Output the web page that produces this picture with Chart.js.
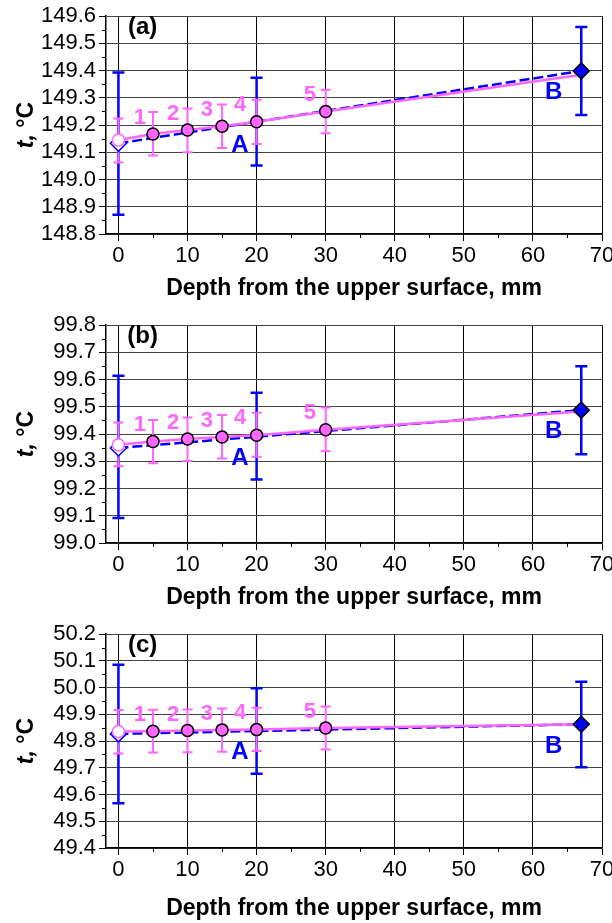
<!DOCTYPE html>
<html><head><meta charset="utf-8">
<script src="https://cdn.jsdelivr.net/npm/chart.js@4"></script>
<style>
body{margin:0;background:#fff;width:612px;height:923px;overflow:hidden;}
.p{position:relative;width:612px;}
</style></head><body>
<div class="p" style="height:309px"><canvas id="ca"></canvas></div>
<div class="p" style="height:309px"><canvas id="cb"></canvas></div>
<div class="p" style="height:305px"><canvas id="cc"></canvas></div>
<script>
// ---------- data ----------
const depthsPink = [0, 5, 10, 15, 20, 30, 67];
const depthsPinkErr = [0, 5, 10, 15, 20, 30];
const depthsBlue = [0, 67];
const depthsBlueErr = [0, 20, 67];
const xTickValues = [0, 10, 20, 30, 40, 50, 60, 70];

// panel (a)
const pinkA = [149.145, 149.167, 149.182, 149.196, 149.212, 149.250, 149.385];
const pinkLowA = [149.063, 149.088, 149.100, 149.116, 149.131, 149.170];
const pinkHighA = [149.224, 149.248, 149.261, 149.276, 149.293, 149.330];
const blueA = [149.133, 149.399];
const blueLowA = [148.871, 149.052, 149.237];
const blueHighA = [149.393, 149.374, 149.560];
const yTicksA = [148.8, 148.9, 149.0, 149.1, 149.2, 149.3, 149.4, 149.5, 149.6];

// panel (b)
const pinkB = [99.361, 99.373, 99.382, 99.389, 99.396, 99.416, 99.483];
const pinkLowB = [99.282, 99.293, 99.301, 99.310, 99.317, 99.337];
const pinkHighB = [99.443, 99.452, 99.461, 99.470, 99.478, 99.498];
const blueB = [99.349, 99.488];
const blueLowB = [99.092, 99.233, 99.326];
const blueHighB = [99.614, 99.552, 99.649];
const yTicksB = [99.0, 99.1, 99.2, 99.3, 99.4, 99.5, 99.6, 99.7, 99.8];

// panel (c)
const pinkC = [49.836, 49.837, 49.840, 49.842, 49.843, 49.849, 49.863];
const pinkLowC = [49.754, 49.757, 49.758, 49.760, 49.763, 49.769];
const pinkHighC = [49.916, 49.917, 49.918, 49.922, 49.925, 49.929];
const blueC = [49.827, 49.863];
const blueLowC = [49.567, 49.678, 49.702];
const blueHighC = [50.086, 49.998, 50.022];
const yTicksC = [49.4, 49.5, 49.6, 49.7, 49.8, 49.9, 50.0, 50.1, 50.2];

// text labels
const pointLabels = ['1', '2', '3', '4', '5'];
const pointLabelDepths = [3.1, 7.9, 12.8, 17.6, 27.7];
const panelLetters = ['(a)', '(b)', '(c)'];
const xTitle = 'Depth from the upper surface, mm';

// ---------- helpers ----------
const PINK = '#ff66ff', BLUE = '#0000ff';
const FONT = "'Liberation Sans', Arial, sans-serif";

const errorBars = {
  id: 'errorBars',
  beforeDatasetsDraw(chart) {
    const o = chart.options.plugins.errorBars;
    const {ctx, scales: {x, y}} = chart;
    ctx.save();
    const draw = (xs, lo, hi, color, w, cap) => {
      ctx.strokeStyle = color; ctx.lineWidth = w;
      xs.forEach((d, i) => {
        const px = x.getPixelForValue(d);
        const p1 = y.getPixelForValue(lo[i]), p2 = y.getPixelForValue(hi[i]);
        ctx.beginPath();
        ctx.moveTo(px, p1); ctx.lineTo(px, p2);
        ctx.moveTo(px - cap, p1); ctx.lineTo(px + cap, p1);
        ctx.moveTo(px - cap, p2); ctx.lineTo(px + cap, p2);
        ctx.stroke();
      });
    };
    draw(depthsBlueErr, o.blueLow, o.blueHigh, BLUE, 2.5, 6);
    draw(depthsPinkErr, o.pinkLow, o.pinkHigh, PINK, 2, 5);
    ctx.restore();
  }
};

const extras = {
  id: 'extras',
  afterDraw(chart) {
    const o = chart.options.plugins.extras;
    const {ctx, scales: {x, y}, chartArea: a} = chart;
    ctx.save();
    // minor ticks
    ctx.strokeStyle = '#000'; ctx.lineWidth = 1;
    ctx.beginPath();
    for (let v = y.min + 0.05; v < y.max; v += 0.1) {
      const py = Math.round(y.getPixelForValue(v)) + 0.5;
      ctx.moveTo(a.left - 4, py); ctx.lineTo(a.left, py);
    }
    for (let v = 5; v < 70; v += 10) {
      const px = Math.round(x.getPixelForValue(v)) + 0.5;
      ctx.moveTo(px, a.bottom); ctx.lineTo(px, a.bottom + 4);
    }
    ctx.stroke();
    // panel letter
    ctx.fillStyle = '#000';
    ctx.font = 'bold 24px ' + FONT;
    ctx.textAlign = 'center'; ctx.textBaseline = 'middle';
    ctx.fillText(o.letter, x.getPixelForValue(3.5), y.getPixelForValue(y.max - 0.04));
    // point labels
    ctx.fillStyle = PINK;
    ctx.font = 'bold 22px ' + FONT;
    pointLabels.forEach((t, i) => {
      ctx.fillText(t, x.getPixelForValue(pointLabelDepths[i]), y.getPixelForValue(o.pinkHigh[i + 1] - 0.02));
    });
    // A and B
    ctx.fillStyle = BLUE;
    ctx.font = 'bold 24px ' + FONT;
    ctx.fillText('A', x.getPixelForValue(17.6), y.getPixelForValue(o.labelA));
    ctx.fillText('B', x.getPixelForValue(63), y.getPixelForValue(o.labelB));
    // y title: "t, °C" with italic t
    ctx.fillStyle = '#000';
    ctx.translate(27, (a.top + a.bottom) / 2);
    ctx.rotate(-Math.PI / 2);
    ctx.textAlign = 'left';
    ctx.font = 'italic bold 23px ' + FONT;
    const w1 = ctx.measureText('t,').width;
    ctx.font = 'bold 23px ' + FONT;
    const w2 = ctx.measureText(' °C').width;
    const sx = -(w1 + w2) / 2;
    ctx.font = 'italic bold 23px ' + FONT;
    ctx.fillText('t,', sx, 0);
    ctx.font = 'bold 23px ' + FONT;
    ctx.fillText(' °C', sx + w1, 0);
    ctx.restore();
  }
};

function makeChart(id, letter, pink, pinkLow, pinkHigh, blue, blueLow, blueHigh, yTicks, labelA, labelB, titlePad) {
  return new Chart(document.getElementById(id), {
    type: 'scatter',
    data: {
      datasets: [
        {
          label: 'B marker',
          data: [{x: depthsBlue[1], y: blue[1]}],
          pointStyle: 'rectRot', pointRadius: 8,
          pointBackgroundColor: BLUE, pointBorderColor: '#000', pointBorderWidth: 1.5,
          showLine: false, order: 0
        },
        {
          label: 'pink',
          data: depthsPink.map((d, i) => ({x: d, y: pink[i]})),
          showLine: true, borderColor: PINK, borderWidth: 2.5,
          pointRadius: depthsPink.map((d, i) => i === depthsPink.length - 1 ? 0 : 6),
          pointBackgroundColor: depthsPink.map((d, i) => i === 0 ? '#fff' : PINK),
          pointBorderColor: depthsPink.map((d, i) => i === 0 ? PINK : '#000'),
          pointBorderWidth: 1.5, order: 1
        },
        {
          label: 'blue',
          data: depthsBlue.map((d, i) => ({x: d, y: blue[i]})),
          showLine: true, borderColor: BLUE, borderWidth: 2.5, borderDash: [10, 4],
          pointStyle: 'rectRot', pointRadius: [8, 0],
          pointBackgroundColor: '#fff', pointBorderColor: BLUE, pointBorderWidth: 1.5,
          order: 2
        }
      ]
    },
    options: {
      responsive: true, maintainAspectRatio: false, animation: false,
      layout: {padding: {top: 14, right: 10, left: 0, bottom: 0}},
      plugins: {
        legend: {display: false}, tooltip: {enabled: false},
        errorBars: {pinkLow, pinkHigh, blueLow, blueHigh},
        extras: {letter, pinkHigh, labelA, labelB}
      },
      scales: {
        x: {
          type: 'linear', min: -1.8, max: 70,
          afterBuildTicks: s => { s.ticks = xTickValues.map(v => ({value: v})); },
          afterFit: s => { s.height = 75; s.paddingLeft = 0; s.paddingRight = 0; },
          ticks: {color: '#000', font: {family: FONT, size: 22}, padding: 2, maxRotation: 0, autoSkip: false},
          grid: {color: '#000', lineWidth: 1, tickLength: 7, tickColor: '#000'},
          border: {color: '#000', width: 1.5},
          title: {display: true, text: xTitle, color: '#000', font: {family: FONT, size: 23, weight: 'bold'}, padding: {top: 0, bottom: titlePad}}
        },
        y: {
          type: 'linear', min: yTicks[0], max: yTicks[yTicks.length - 1],
          afterBuildTicks: s => { s.ticks = yTicks.map(v => ({value: v})); },
          afterFit: s => { s.width = 106; },
          ticks: {color: '#000', font: {family: FONT, size: 22}, padding: 3, autoSkip: false, callback: v => Number(v).toFixed(1)},
          grid: {color: '#444', lineWidth: 1, tickLength: 7, tickColor: '#000'},
          border: {color: '#000', width: 1.5}
        }
      }
    },
    plugins: [errorBars, extras]
  });
}

makeChart('ca', panelLetters[0], pinkA, pinkLowA, pinkHighA, blueA, blueLowA, blueHighA, yTicksA, 149.125, 149.32, 7);
makeChart('cb', panelLetters[1], pinkB, pinkLowB, pinkHighB, blueB, blueLowB, blueHighB, yTicksB, 99.311, 99.41, 7);
makeChart('cc', panelLetters[2], pinkC, pinkLowC, pinkHighC, blueC, blueLowC, blueHighC, yTicksC, 49.757, 49.78, 1);
</script>
</body></html>
